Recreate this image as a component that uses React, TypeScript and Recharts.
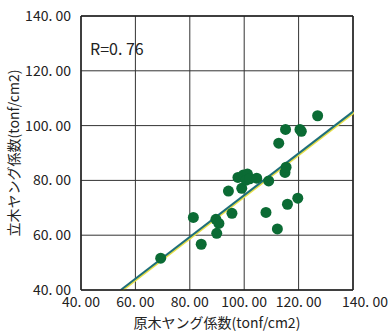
import React from 'react';
import {
  ComposedChart,
  Scatter,
  Line,
  XAxis,
  YAxis,
  CartesianGrid,
  ReferenceLine,
} from 'recharts';

// 原木ヤング係数 (x) / 立木ヤング係数 (y), tonf/cm2
const logValues = [
  69.3, 81.3, 84.2, 89.6, 90.7, 89.9, 94.2, 95.5, 97.7, 99.1, 99.7, 101.2, 100.7, 102.0,
  104.6, 109.0, 108.0, 112.2, 112.7, 115.2, 115.0, 115.4, 115.9, 119.7, 120.5, 121.0, 127.0,
];
const treeValues = [
  51.6, 66.5, 56.7, 65.8, 64.3, 60.7, 76.1, 68.0, 81.1, 77.1, 82.0, 82.3, 80.1, 80.6,
  80.8, 79.8, 68.3, 62.3, 93.6, 98.6, 82.9, 84.8, 71.3, 73.5, 98.6, 97.9, 103.6,
];

// regression line end points
const fitX = [54.6, 140];
const fitY = [40, 105.1];

const ticks = [40, 60, 80, 100, 120, 140];

const points = logValues.map((x, i) => ({ x, y: treeValues[i] }));
const fitLine = fitX.map((x, i) => ({ x, fy: fitY[i] }));

const FONT = '"Noto Sans CJK JP", "Noto Sans", sans-serif';
const fmt = (v: number) => v.toFixed(2).replace('.', '. ');

const XTick = (props: any) => {
  const { x, payload } = props;
  const shift = payload.value === 140 ? 12 : 0;
  return (
    <text
      x={x + shift}
      y={301}
      textAnchor="middle"
      dominantBaseline="central"
      fontSize={14}
      fill="#222"
      fontFamily={FONT}
    >
      {fmt(payload.value)}
    </text>
  );
};

const XLabel = (props: any) => {
  const { viewBox } = props;
  return (
    <text
      x={viewBox.x + viewBox.width / 2}
      y={322}
      textAnchor="middle"
      dominantBaseline="central"
      fontSize={14}
      fill="#222"
      fontFamily={FONT}
    >
      原木ヤング係数(tonf/cm2)
    </text>
  );
};

export default function App() {
  return (
    <div style={{ position: 'absolute', left: 0, top: 0, background: '#fff' }}>
      <ComposedChart
        width={390}
        height={333}
        margin={{ top: 16, right: 37, bottom: 0, left: 0 }}
      >
        <CartesianGrid stroke="#333" strokeWidth={1} />
        <XAxis
          type="number"
          dataKey="x"
          domain={[40, 140]}
          ticks={ticks}
          height={43}
          tickLine={false}
          axisLine={{ stroke: '#222', strokeWidth: 1.5 }}
          tick={<XTick />}
          allowDataOverflow
          label={<XLabel />}
        />
        <YAxis
          type="number"
          domain={[40, 140]}
          ticks={ticks}
          width={81}
          tickLine={false}
          axisLine={{ stroke: '#222', strokeWidth: 1.5 }}
          tickFormatter={fmt}
          tick={{ fontSize: 14, fill: '#222', fontFamily: FONT }}
          tickMargin={4}
          allowDataOverflow
          label={{
            value: '立木ヤング係数(tonf/cm2)',
            angle: -90,
            position: 'insideLeft',
            offset: 14,
            style: { textAnchor: 'middle' },
            fontSize: 14,
            fill: '#222',
            fontFamily: FONT,
          }}
        />
        <ReferenceLine y={140} stroke="#222" strokeWidth={1.5} />
        <ReferenceLine x={140} stroke="#222" strokeWidth={1.5} />
        <Line
          data={fitLine}
          dataKey="fy"
          type="linear"
          stroke="#e8e04a"
          strokeWidth={2}
          dot={false}
          activeDot={false}
          isAnimationActive={false}
          transform="translate(1,1)"
        />
        <Line
          data={fitLine}
          dataKey="fy"
          type="linear"
          stroke="#1f6f7a"
          strokeWidth={2}
          dot={false}
          activeDot={false}
          isAnimationActive={false}
        />
        <Scatter
          data={points}
          dataKey="y"
          fill="#0b6b34"
          isAnimationActive={false}
          shape={(p: any) => <circle cx={p.cx} cy={p.cy} r={5.5} fill="#0b6b34" />}
        />
        <text x={90} y={55} fontSize={16} fill="#222" fontFamily={FONT}>
          R=0. 76
        </text>
      </ComposedChart>
    </div>
  );
}
